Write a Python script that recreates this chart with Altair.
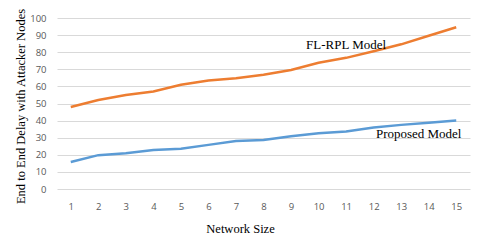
import altair as alt
import pandas as pd

sizes = list(range(1, 16))
fl_rpl = [48, 52, 55, 57, 61, 63.5, 64.8, 66.8, 69.6, 73.8, 76.7, 80.6, 84.6, 89.6, 94.6]
proposed = [15.8, 19.8, 20.9, 22.8, 23.5, 25.8, 28, 28.6, 30.8, 32.6, 33.6, 35.9, 37.5, 38.8, 40]
series_names = ["FL-RPL Model", "Proposed Model"]
colors = ["#ED7D31", "#5B9BD5"]

ann_text = ["FL-RPL Model", "Proposed Model"]
ann_x = [11, 14]
ann_y = [84.3, 32.2]
ann_dx = [0, -10]

rows = []
for s, v in zip(sizes, fl_rpl):
    rows.append({"size": s, "delay": v, "series": series_names[0]})
for s, v in zip(sizes, proposed):
    rows.append({"size": s, "delay": v, "series": series_names[1]})
df = pd.DataFrame(rows)

xenc = alt.X("size:O", scale=alt.Scale(domain=sizes, paddingInner=0, paddingOuter=0),
             axis=alt.Axis(title="Network Size", labelAngle=0, domain=False, ticks=False,
                           labelPadding=12, labelColor="#595959", labelFont="Open Sans",
                           labelFontSize=9.5, titleFont="Liberation Serif", titleFontSize=12.5,
                           titleFontWeight="normal", titleColor="#000000",
                           titleX=183, titleY=39, titleBaseline="middle", grid=False))
yenc = alt.Y("delay:Q", scale=alt.Scale(domain=[0, 100], nice=False),
             axis=alt.Axis(title="End to End Delay with Attacker Nodes", values=list(range(0, 101, 10)),
                           labelOverlap=False, labelFlush=False, grid=True,
                           domain=False, ticks=False, labelPadding=11, labelColor="#595959",
                           labelFont="Open Sans", labelFontSize=9.5, titleFont="Liberation Serif",
                           titleFontSize=12.5, titleFontWeight="normal", titleColor="#000000",
                           gridColor="#D9D9D9", gridWidth=1, titleX=-37, titleY=88,
                           titleBaseline="middle", titleAngle=-90, titleAlign="center"))

lines = alt.Chart(df).mark_line(strokeWidth=2.5).encode(
    x=xenc, y=yenc,
    color=alt.Color("series:N", scale=alt.Scale(domain=series_names, range=colors), legend=None),
)

layers = [lines]
for t, xv, yv, dx in zip(ann_text, ann_x, ann_y, ann_dx):
    adf = pd.DataFrame({"size": [xv], "delay": [yv], "label": [t]})
    layers.append(alt.Chart(adf).mark_text(font="Liberation Serif", fontSize=13, color="#000000",
                                          align="center", baseline="middle", dx=dx).encode(
        x=xenc, y=yenc, text="label:N"))

chart = alt.layer(*layers).properties(
    width=413, height=171,
    background="#ffffff",
    autosize=alt.AutoSizeParams(type="none"),
    padding={"left": 49, "top": 10, "right": 2, "bottom": 45},
).configure_view(stroke=None)

chart.save("out.html", embed_options={"renderer": "svg", "actions": False})
